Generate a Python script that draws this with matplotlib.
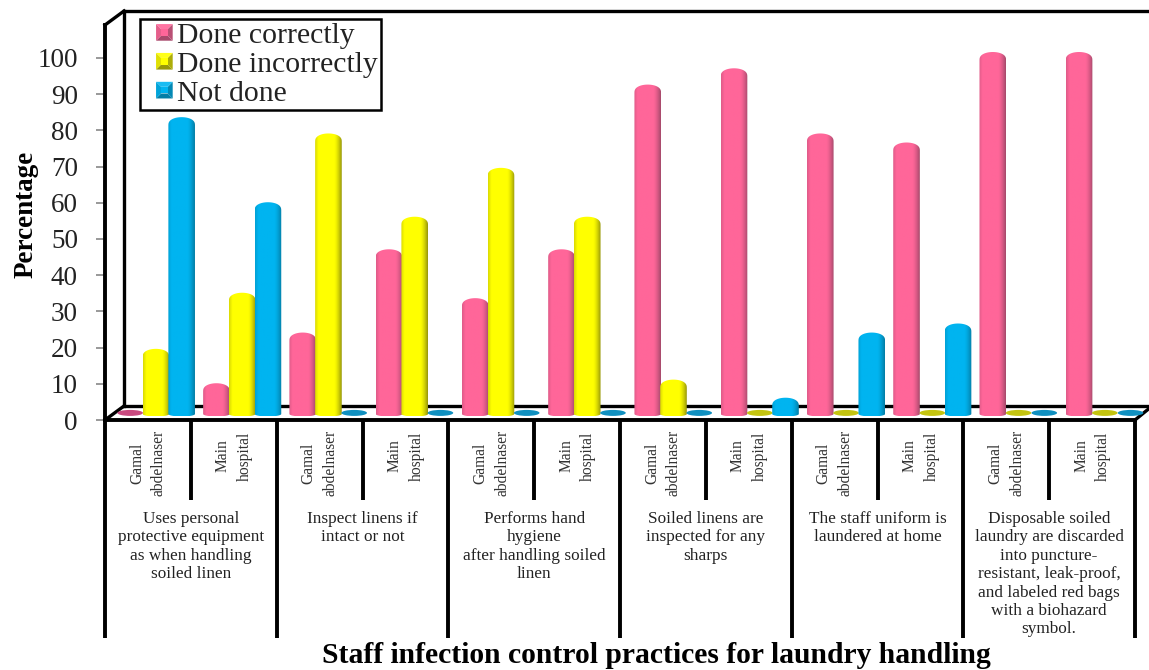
import numpy as np
import matplotlib
matplotlib.use('Agg')
import matplotlib.pyplot as plt
from matplotlib.patches import Ellipse, PathPatch, Polygon, Patch
from matplotlib.path import Path
from matplotlib.legend_handler import HandlerBase
from matplotlib.colors import to_rgb

plt.rcParams['font.family'] = ['Liberation Serif', 'DejaVu Serif']

hospitals = ['Gamal\nabdelnaser', 'Main\nhospital'] * 6
practices = [
    'Uses personal\nprotective equipment\nas when handling\nsoiled linen',
    'Inspect linens if\nintact or not',
    'Performs hand\nhygiene\nafter handling soiled\nlinen',
    'Soiled linens are\ninspected for any\nsharps',
    'The staff uniform is\nlaundered at home',
    'Disposable soiled\nlaundry are discarded\ninto puncture-\nresistant, leak-proof,\nand labeled red bags\nwith a biohazard\nsymbol.',
]
series_names = ['Done correctly', 'Done incorrectly', 'Not done']
done_correctly = [0, 8.5, 22.5, 45.5, 32, 45.5, 91, 95.5, 77.5, 75, 100, 100]
done_incorrectly = [18, 33.5, 77.5, 54.5, 68, 54.5, 9.5, 0, 0, 0, 0, 0]
not_done = [82, 58.5, 0, 0, 0, 0, 0, 4.5, 22.5, 25, 0, 0]
yticks = list(range(0, 101, 10))

# colours: main, dark edge, flat disc for zero values
colours = [('#ff6699', '#a84a6c', '#c9497f'),
           ('#ffff00', '#98980a', '#c4c410'),
           ('#00b4f0', '#047ea6', '#1090c0')]

PX = 3.62            # pixels per percent
depth_x = 19 / 85.8  # wall offset
depth_y = 14 / PX
bar_dx = 8 / 85.8    # bars stand half way back
bar_dy = 6 / PX
bar_w = 0.31
spread = 0.005       # bar groups drift right a little, as in a perspective view


def py(pixel):
    # y of a figure pixel row in data units
    return (420 - pixel) / PX


fig = plt.figure(figsize=(11.49, 6.7), dpi=100)
ax = fig.add_axes([105 / 1149, 250 / 670, 1030 / 1149, 409 / 670])
ax.set_xlim(0, 12)
ax.set_ylim(0, py(11))
ax.autoscale(False)
ax.patch.set_alpha(0)

for s in ['top', 'right']:
    ax.spines[s].set_visible(False)
ax.spines['left'].set_linewidth(2.8)
ax.spines['left'].set_bounds(0, py(25))
ax.spines['bottom'].set_linewidth(2.8)
ax.set_xticks([])
ax.set_yticks(yticks)
ax.tick_params(axis='y', length=6.5, width=1.2, color='#888888', labelsize=19.5,
               labelcolor='#222222', pad=13)

# back wall and floor edges
wall = dict(color='black', lw=2.4, clip_on=False, solid_capstyle='projecting', zorder=1)
ax.plot([0, depth_x], [py(25), py(25) + depth_y], **wall)
ax.plot([0, depth_x], [0, depth_y], **wall)
ax.plot([depth_x, depth_x], [depth_y, py(11)], **wall)
ax.plot([depth_x, 12.15], [py(11), py(11)], **wall)
ax.plot([depth_x, 12.15], [depth_y, depth_y], **wall)
ax.plot([12, 12.15], [0, depth_y * 0.75], **wall)


def draw_bar(x, val, col, z):
    main, dark, flat = col
    left = x - bar_w / 2
    base = bar_dy
    if val == 0:
        ax.add_patch(Ellipse((x, base + 0.3), bar_w * 0.96, 6 / PX, color=flat, zorder=z, lw=0,
                             clip_on=False))
        return
    top = base + val
    dome = 8 / PX
    sag = 2.5 / PX
    t = np.linspace(0, np.pi, 30)
    xs_top = x + bar_w / 2 * np.cos(t)
    ys_top = top - dome + dome * np.sin(t) ** 0.8
    xs_bot = x - bar_w / 2 * np.cos(t)
    ys_bot = base - sag * np.sin(t)
    pts = np.column_stack([np.r_[xs_top, xs_bot], np.r_[ys_top, ys_bot]])
    shape = PathPatch(Path(np.vstack([pts, pts[0]]), closed=True), transform=ax.transData,
                      facecolor='none', edgecolor='none')
    c0, c1 = np.array(to_rgb(main)), np.array(to_rgb(dark))
    u = np.linspace(0, 1, 40)
    # shade towards the edges, much stronger on the right
    w = np.clip((u - 0.72) / 0.28, 0, 1) ** 1.5 + 0.35 * np.clip((0.12 - u) / 0.12, 0, 1)
    row = c0 + (c1 - c0) * w[:, None]
    img = np.repeat(row[None, :, :], 12, axis=0)
    im = ax.imshow(img, extent=[left, left + bar_w, base - sag, top], aspect='auto',
                   interpolation='bilinear', zorder=z)
    im.set_clip_path(shape)


for i in range(12):
    centre = i + 0.5 + bar_dx + i * spread
    for k, vals in enumerate([done_correctly, done_incorrectly, not_done]):
        draw_bar(centre + (k - 1) * 0.3, vals[i], colours[k], 3 + k + i * 3)

# category separators below the axis
for i in range(13):
    bottom = py(638) if i % 2 == 0 else py(500)
    ax.plot([i, i], [0, bottom], color='black', lw=2.8, clip_on=False, solid_capstyle='butt')

for i, name in enumerate(hospitals):
    centre_row = 463 if i % 2 == 0 else 456
    ax.text(i + 0.5, py(centre_row), name, rotation=90, ha='center', va='center',
            multialignment='center', fontsize=11.2, linespacing=1.5, color='#333333', clip_on=False)

for i, name in enumerate(practices):
    ax.text(2 * i + 1, py(511), name, ha='center', va='top', multialignment='center',
            fontsize=12.4, linespacing=1.2, color='#222222', clip_on=False)

ax.text(6.42, py(655.5), 'Staff infection control practices for laundry handling', ha='center',
        va='center', fontsize=21.3, fontweight='bold', color='black', clip_on=False)
ax.text(-0.92, py(214), 'Percentage', rotation=90, ha='center', va='center', fontsize=19.5,
        fontweight='bold', color='black', clip_on=False)


class BevelHandler(HandlerBase):
    # small bevelled square as legend key
    def create_artists(self, legend, orig, xd, yd, width, height, fontsize, trans):
        main, dark = orig.get_facecolor(), orig.get_edgecolor()
        s = height * 0.8
        x0 = width - s
        y0 = (height - s) / 2
        b = s * 0.3
        out = [(x0, y0), (x0 + s, y0), (x0 + s, y0 + s), (x0, y0 + s)]
        inn = [(x0 + b, y0 + b), (x0 + s - b, y0 + b), (x0 + s - b, y0 + s - b), (x0 + b, y0 + s - b)]
        base = np.array(main[:3])
        dk = np.array(dark[:3])
        tones = [dk, dk * 0.8 + base * 0.2, base * 0.9 + 0.1, base * 0.7 + dk * 0.3]
        artists = []
        for j in range(4):
            pts = [out[j], out[(j + 1) % 4], inn[(j + 1) % 4], inn[j]]
            artists.append(Polygon(pts, closed=True, facecolor=tones[j], edgecolor='none', transform=trans))
        artists.append(Polygon(inn, closed=True, facecolor=base, edgecolor='none', transform=trans))
        return artists


handles = [Patch(facecolor=c[0], edgecolor=c[1]) for c in colours]
leg = ax.legend(handles, series_names, loc='upper left',
                bbox_to_anchor=(35 / 1030, 401 / 409), borderaxespad=0, fontsize=21.4,
                handler_map={Patch: BevelHandler()}, handlelength=1.0, handletextpad=0.14,
                labelspacing=0.07, borderpad=0.1, fancybox=False, framealpha=1,
                edgecolor='black', labelcolor='#222222')
leg.get_frame().set_linewidth(1.8)
leg.set_zorder(100)

fig.savefig('out.png', dpi=100, facecolor='white')
